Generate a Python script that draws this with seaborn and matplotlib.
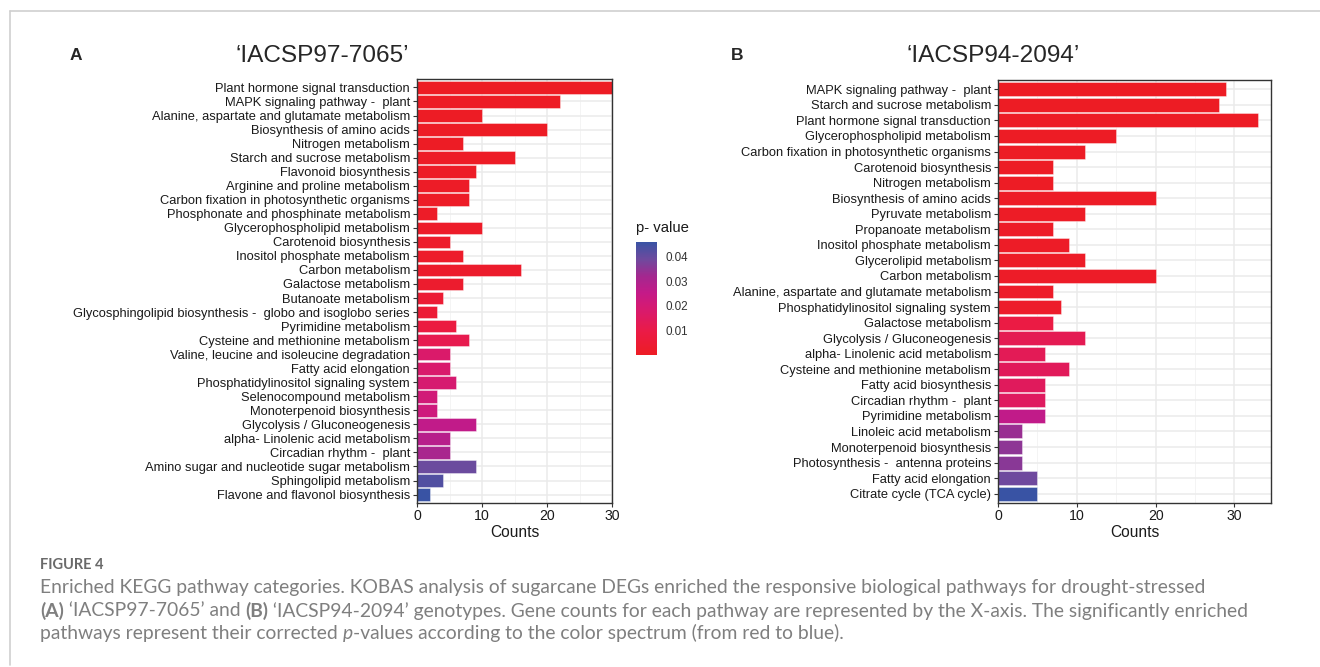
import numpy as np
import pandas as pd
import matplotlib
matplotlib.use("Agg")
import matplotlib.pyplot as plt
import seaborn as sns
from matplotlib.colors import LinearSegmentedColormap, Normalize
from matplotlib.cm import ScalarMappable
from matplotlib.lines import Line2D
from matplotlib.ticker import MultipleLocator

# ---------------- data ----------------
pathways_a = [
    "Plant hormone signal transduction", "MAPK signaling pathway -  plant",
    "Alanine, aspartate and glutamate metabolism", "Biosynthesis of amino acids",
    "Nitrogen metabolism", "Starch and sucrose metabolism", "Flavonoid biosynthesis",
    "Arginine and proline metabolism", "Carbon fixation in photosynthetic organisms",
    "Phosphonate and phosphinate metabolism", "Glycerophospholipid metabolism",
    "Carotenoid biosynthesis", "Inositol phosphate metabolism", "Carbon metabolism",
    "Galactose metabolism", "Butanoate metabolism",
    "Glycosphingolipid biosynthesis -  globo and isoglobo series",
    "Pyrimidine metabolism", "Cysteine and methionine metabolism",
    "Valine, leucine and isoleucine degradation", "Fatty acid elongation",
    "Phosphatidylinositol signaling system", "Selenocompound metabolism",
    "Monoterpenoid biosynthesis", "Glycolysis / Gluconeogenesis",
    "alpha- Linolenic acid metabolism", "Circadian rhythm -  plant",
    "Amino sugar and nucleotide sugar metabolism", "Sphingolipid metabolism",
    "Flavone and flavonol biosynthesis",
]
counts_a = [30, 22, 10, 20, 7, 15, 9, 8, 8, 3, 10, 5, 7, 16, 7,
            4, 3, 6, 8, 5, 5, 6, 3, 3, 9, 5, 5, 9, 4, 2]
pvals_a = [0.0001, 0.0002, 0.0003, 0.0004, 0.0005, 0.0006, 0.0008, 0.001, 0.001,
           0.0012, 0.0015, 0.002, 0.002, 0.0025, 0.003, 0.0045, 0.005, 0.008,
           0.0115, 0.0175, 0.018, 0.019, 0.021, 0.022, 0.026, 0.028, 0.031,
           0.0395, 0.043, 0.0461]

pathways_b = [
    "MAPK signaling pathway -  plant", "Starch and sucrose metabolism",
    "Plant hormone signal transduction", "Glycerophospholipid metabolism",
    "Carbon fixation in photosynthetic organisms", "Carotenoid biosynthesis",
    "Nitrogen metabolism", "Biosynthesis of amino acids", "Pyruvate metabolism",
    "Propanoate metabolism", "Inositol phosphate metabolism", "Glycerolipid metabolism",
    "Carbon metabolism", "Alanine, aspartate and glutamate metabolism",
    "Phosphatidylinositol signaling system", "Galactose metabolism",
    "Glycolysis / Gluconeogenesis", "alpha- Linolenic acid metabolism",
    "Cysteine and methionine metabolism", "Fatty acid biosynthesis",
    "Circadian rhythm -  plant", "Pyrimidine metabolism", "Linoleic acid metabolism",
    "Monoterpenoid biosynthesis", "Photosynthesis -  antenna proteins",
    "Fatty acid elongation", "Citrate cycle (TCA cycle)",
]
counts_b = [29, 28, 33, 15, 11, 7, 7, 20, 11, 7, 9, 11, 20, 7, 8, 7, 11, 6, 9,
            6, 6, 6, 3, 3, 3, 5, 5]
pvals_b = [0.0001, 0.0001, 0.0002, 0.0003, 0.0004, 0.0005, 0.0005, 0.0006, 0.0007,
           0.0008, 0.0009, 0.001, 0.0012, 0.0015, 0.002, 0.009, 0.0125, 0.013,
           0.014, 0.0145, 0.015, 0.026, 0.0335, 0.035, 0.0355, 0.039, 0.0461]

cbar_ticks = [0.01, 0.02, 0.03, 0.04]
title_a = "\u2018IACSP97-7065\u2019"
title_b = "\u2018IACSP94-2094\u2019"

# ---------------- style ----------------
sns.set_theme(style="whitegrid")
plt.rcParams["font.family"] = ["Liberation Sans", "DejaVu Sans"]

cmap = LinearSegmentedColormap.from_list(
    "pv", [(0.0, "#ED1C24"), (0.2, "#EB1B45"), (0.4, "#D81A6E"), (0.55, "#C41A88"),
           (0.7, "#A3288F"), (0.85, "#6E4A9E"), (1.0, "#3953A4")])
norm = Normalize(0.0, 0.0461)

W, H = 1320, 667
fig = plt.figure(figsize=(W / 100, H / 100), dpi=100)


def fx(x):
    return x / W


def fy(y):
    return 1 - y / H


def panel(rect, names, counts, pvals, xmax):
    ax = fig.add_axes(rect)
    df = pd.DataFrame({"pathway": names, "count": counts})
    colors = [cmap(norm(p)) for p in pvals]
    sns.barplot(data=df, y="pathway", x="count", hue="pathway", palette=colors,
                legend=False, ax=ax, width=0.9, orient="h", saturation=1,
                edgecolor=(1, 1, 1, 0.45), linewidth=0.6)
    n = len(names)
    ax.set_ylim(n - 1 + 0.6, -0.6)
    ax.set_xlim(0, xmax)
    ax.xaxis.set_major_locator(MultipleLocator(10))
    ax.xaxis.set_minor_locator(MultipleLocator(5))
    ax.set_axisbelow(True)
    ax.grid(False)
    ax.xaxis.grid(True, which="major", color="#EBEBEB", lw=1.1)
    ax.xaxis.grid(True, which="minor", color="#F2F2F2", lw=0.6)
    ax.yaxis.grid(True, which="major", color="#EBEBEB", lw=1.1)
    for s in ax.spines.values():
        s.set_visible(True)
        s.set_color("#333333")
        s.set_linewidth(1.0)
    ax.tick_params(axis="both", which="major", length=3, width=0.8, color="#333333",
                   labelsize=9.3, labelcolor="#1A1A1A", pad=2, left=True, bottom=True)
    ax.tick_params(axis="x", which="major", labelsize=10.2, pad=1.5)
    ax.tick_params(axis="x", which="minor", length=0)
    ax.set_ylabel("")
    ax.set_xlabel("Counts", fontsize=11.2, color="#1A1A1A", labelpad=1)
    return ax


axA = panel([fx(417), fy(503), fx(612 - 417), (503 - 79) / H],
            pathways_a, counts_a, pvals_a, 30)
axB = panel([fx(998), fy(503), fx(1271 - 998), (503 - 80) / H],
            pathways_b, counts_b, pvals_b, max(counts_b) * 1.05)

# colour bar
cax = fig.add_axes([fx(636), fy(355), fx(21), (355 - 242) / H])
sm = ScalarMappable(norm=norm, cmap=cmap)
cb = fig.colorbar(sm, cax=cax, ticks=cbar_ticks)
cb.outline.set_visible(False)
cb.ax.set_yticklabels([f"{t:.2f}" for t in cbar_ticks])
cax.tick_params(which="both", direction="in", length=4, width=0.8, color="white",
                labelcolor="#333333", labelsize=8.4, left=True, right=True, pad=6)
cax.minorticks_off()
fig.text(fx(636), fy(228), "p- value", fontsize=10.7, color="#1A1A1A",
         ha="left", va="center")

# panel labels and titles
fig.text(fx(76), fy(56), "A", fontsize=12.5, weight="bold", ha="center", va="center")
fig.text(fx(737), fy(56), "B", fontsize=12.5, weight="bold", ha="center", va="center")
fig.text(fx(322), fy(56), title_a, fontsize=17.6, ha="center", va="center")
fig.text(fx(993), fy(56), title_b, fontsize=17.6, ha="center", va="center")

# frame lines of the figure card
fig.add_artist(Line2D([fx(9.5), 1], [fy(11), fy(11)], transform=fig.transFigure,
                      color="#CFCFCF", lw=1.2))
fig.add_artist(Line2D([fx(9.5), fx(9.5)], [fy(11), fy(665)], transform=fig.transFigure,
                      color="#CFCFCF", lw=1.2))

# caption
cap_font = ["Lato", "DejaVu Sans"]
cap_color = "#7F7F7F"
fig.text(fx(40), fy(565), "FIGURE 4", fontsize=10.5, weight="bold",
         family=cap_font, color="#6A6A6A", ha="left", va="center")

lines = [
    [("Enriched KEGG pathway categories. KOBAS analysis of sugarcane DEGs enriched the "
      "responsive biological pathways for drought-stressed", {})],
    [("(A)", {"weight": "bold"}), (" \u2018IACSP97-7065\u2019 and ", {}),
     ("(B)", {"weight": "bold"}),
     (" \u2018IACSP94-2094\u2019 genotypes. Gene counts for each pathway are represented "
      "by the X-axis. The significantly enriched", {})],
    [("pathways represent their corrected ", {}), ("p", {"style": "italic"}),
     ("-values according to the color spectrum (from red to blue).", {})],
]
line_y = [588, 611, 633]

renderer = fig.canvas.get_renderer()
probe = fig.text(0, 0, lines[0][0][0], fontsize=12, family=cap_font)
wpx = probe.get_window_extent(renderer).width
probe.remove()
cap_fs = 12 * (1205 - 40) / wpx

for segs, yy in zip(lines, line_y):
    x = 40.0
    for txt, kw in segs:
        t = fig.text(fx(x), fy(yy), txt, fontsize=cap_fs, family=cap_font,
                     color=cap_color, ha="left", va="center", **kw)
        x = t.get_window_extent(renderer).x1

fig.savefig("out.png", dpi=100)
